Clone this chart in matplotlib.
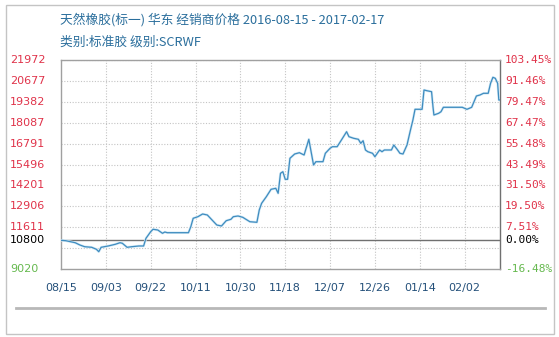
import matplotlib
matplotlib.use("Agg")
import matplotlib.pyplot as plt
import matplotlib.transforms as mtransforms
from matplotlib.patches import Rectangle
from matplotlib.lines import Line2D
import pandas as pd

plt.rcParams['font.family'] = ['Noto Sans CJK SC', 'DejaVu Sans']

# days since 2016-08-15 and price
days = [0, 2, 4, 6, 8, 10, 13, 15, 16, 17, 20, 23, 25, 26, 28, 30, 33, 35,
        36, 38, 39, 41, 43, 44, 45, 54, 55, 56, 58, 60, 62, 64, 66, 68, 70,
        72, 73, 75, 77, 80, 83, 84, 85, 87, 89, 91, 92, 93, 94, 95, 96, 97,
        99, 101, 103, 105, 107, 108, 111, 112, 114, 115, 117, 119, 121, 122,
        124, 126, 127, 128, 129, 130, 132, 133, 134, 135, 136, 137, 140, 141,
        142.4, 143.6, 144.9, 146.6, 147.9, 149.1, 150, 153, 153.8, 155, 157,
        157.6, 158, 160, 161, 162, 170, 172, 174, 176, 177.5, 179, 181, 182,
        183, 184, 185, 185.5, 186]
price = [10800, 10774, 10712, 10650, 10508, 10402, 10365, 10241, 10092, 10365,
         10446, 10551, 10650, 10613, 10365, 10402, 10446, 10446, 10923, 11332,
         11481, 11437, 11233, 11313, 11270, 11270, 11642, 12162, 12261, 12429,
         12367, 12057, 11747, 11685, 12013, 12100, 12261, 12305, 12224, 11951,
         11914, 12676, 13092, 13501, 13959, 14021, 13711, 14951, 15050, 14579,
         14579, 15880, 16147, 16227, 16085, 17058, 15465, 15670, 15670, 16190,
         16500, 16599, 16599, 17058, 17529, 17219, 17120, 17058, 16810, 16971,
         16395, 16289, 16190, 15979, 16190, 16395, 16289, 16395, 16395, 16705,
         16438, 16190, 16147, 16705, 17529, 18254, 18917, 18917, 20113, 20070,
         20008, 19078, 18564, 18669, 18768, 19041, 19041, 18917, 19041, 19741,
         19803, 19908, 19908, 20528, 20900, 20838, 20528, 19493, 19493]

start = pd.Timestamp('2016-08-15')
dates = [start + pd.Timedelta(days=d) for d in days]

base = 10800
ymin, ymax = 9020, 21972
left_ticks = [21972, 20677, 19382, 18087, 16791, 15496, 14201, 12906, 11611]
grid_y = left_ticks + [10316]
right_labels = ['103.45%', '91.46%', '79.47%', '67.47%', '55.48%', '43.49%',
                '31.50%', '19.50%', '7.51%']
xtick_labels = ['08/15', '09/03', '09/22', '10/11', '10/30', '11/18',
                '12/07', '12/26', '01/14', '02/02']
xtick_dates = [start + pd.Timedelta(days=19 * i) for i in range(len(xtick_labels))]

W, H = 559, 337
fig = plt.figure(figsize=(W / 100, H / 100), dpi=100)
fig.patch.set_facecolor('white')
ax = fig.add_axes([61 / W, 1 - 269 / H, (500 - 61) / W, (269 - 60) / H])

ax.set_xlim(start, start + pd.Timedelta(days=186))
ax.set_ylim(ymin, ymax)

for gy in grid_y:
    ax.axhline(gy, color='#c4c4c4', lw=0.8, ls=(0, (1, 1.5)), zorder=1)
for xd in xtick_dates[1:]:
    ax.axvline(xd, color='#c4c4c4', lw=0.8, ls=(0, (1, 1.5)), zorder=1)
ax.axhline(base, color='#707070', lw=1, zorder=2)

ax.plot(dates, price, color='#d2e9f6', lw=1.8, zorder=3)
ax.plot(dates, price, color='#3f8cbf', lw=0.9, zorder=4)

ax.set_xticks([])
ax.set_yticks([])
for s in ['left', 'bottom', 'top']:
    ax.spines[s].set_color('#a0a0a0')
    ax.spines[s].set_linewidth(1)
ax.spines['right'].set_color('#707070')
ax.spines['right'].set_linewidth(1)

tr = mtransforms.blended_transform_factory(fig.transFigure, ax.transData)
red = '#e0334a'
green = '#66b94f'
for v in left_ticks:
    ax.text(10 / W, v, str(v), transform=tr, ha='left', va='center',
            fontsize=8, color=red, family='DejaVu Sans')
ax.text(10 / W, base, '10800', transform=tr, ha='left', va='center',
        fontsize=8, color='black', family='DejaVu Sans')
ax.text(10 / W, ymin, '9020', transform=tr, ha='left', va='center',
        fontsize=8, color=green, family='DejaVu Sans')

for v, lab in zip(left_ticks, right_labels):
    ax.text(505 / W, v, lab, transform=tr, ha='left', va='center',
            fontsize=8, color=red, family='DejaVu Sans Mono')
ax.text(505 / W, base, '0.00%', transform=tr, ha='left', va='center',
        fontsize=8, color='black', family='DejaVu Sans Mono')
ax.text(505 / W, ymin, '-16.48%', transform=tr, ha='left', va='center',
        fontsize=8, color=green, family='DejaVu Sans Mono')

trx = mtransforms.blended_transform_factory(ax.transData, fig.transFigure)
for d, lab in zip(xtick_dates, xtick_labels):
    ax.text(d, 1 - 288 / H, lab, transform=trx, ha='center', va='center',
            fontsize=8, color='#24507a', family='DejaVu Sans')

fig.text(60 / W, 1 - 20 / H, '天然橡胶(标一) 华东 经销商价格 2016-08-15 - 2017-02-17',
         ha='left', va='center', fontsize=9.2, color='#2a6e9c')
fig.text(60 / W, 1 - 42 / H, '类别:标准胶 级别:SCRWF',
         ha='left', va='center', fontsize=9.2, color='#2a6e9c')

fig.add_artist(Line2D([16 / W, 545 / W], [1 - 308 / H, 1 - 308 / H],
                      color='#b8b8b8', lw=2, transform=fig.transFigure))
fig.add_artist(Rectangle((6 / W, 1 - 334 / H), 548 / W, 329 / H,
                         fill=False, edgecolor='#c4c4c4', lw=1,
                         transform=fig.transFigure))

fig.savefig('out.png', dpi=100)
